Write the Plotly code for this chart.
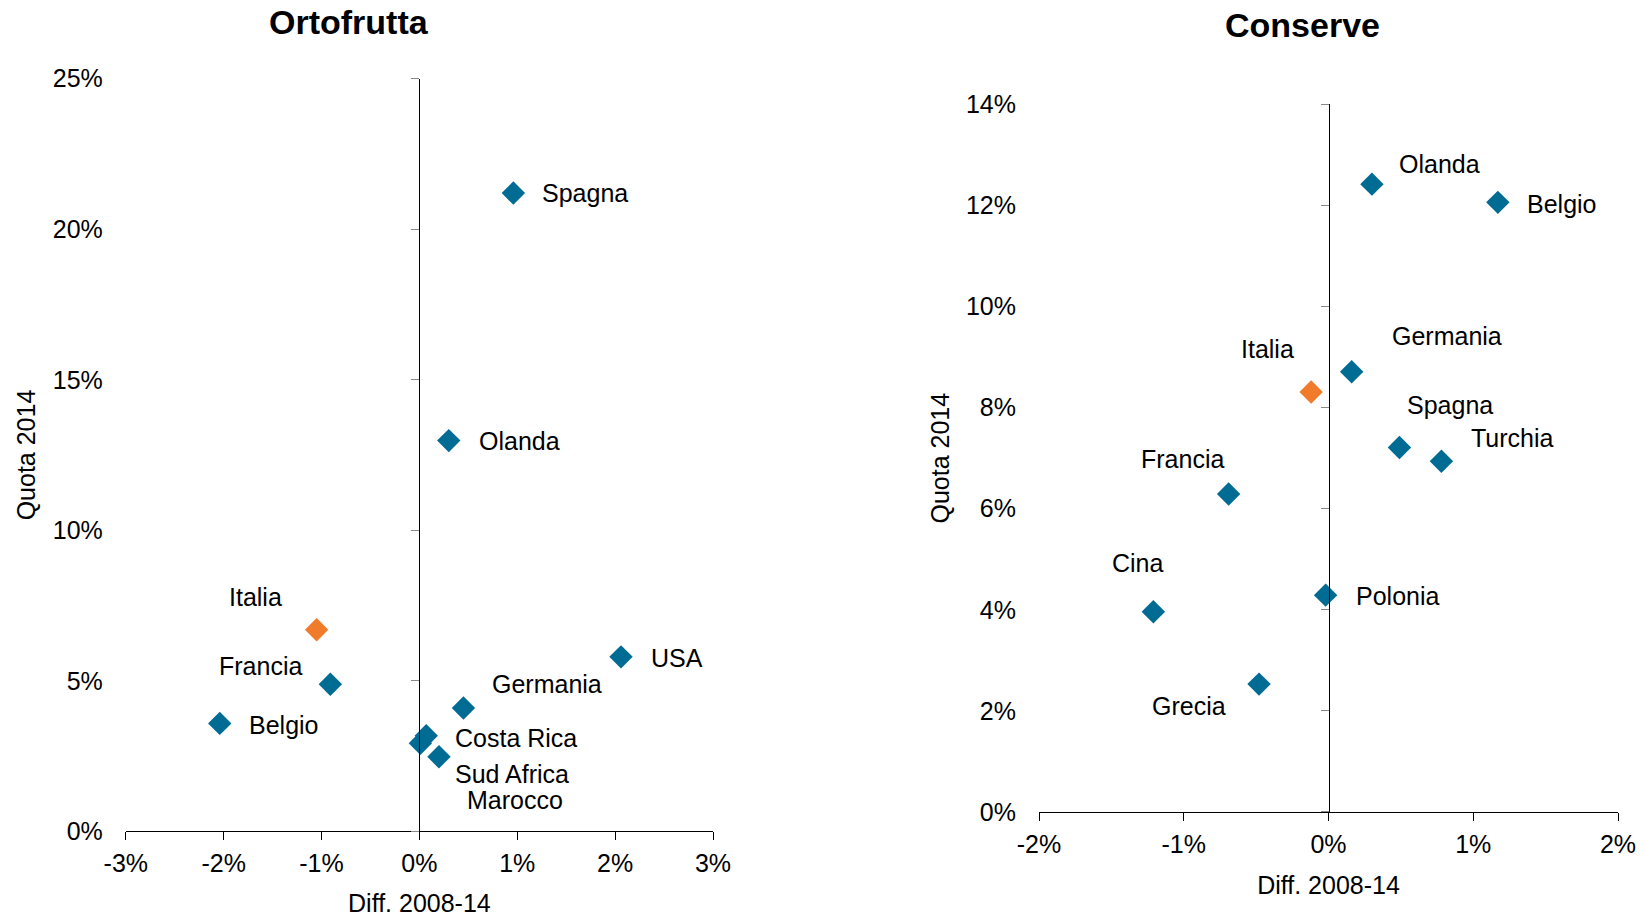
import plotly.graph_objects as go

# Ortofrutta (left)
orto_paesi = ["Spagna", "Olanda", "Italia", "Francia", "Belgio", "USA",
              "Germania", "Costa Rica", "Marocco", "Sud Africa"]
orto_diff = [0.96, 0.30, -1.05, -0.91, -2.04, 2.06, 0.45, 0.07, 0.01, 0.20]
orto_quota = [21.2, 12.98, 6.70, 4.89, 3.59, 5.80, 4.10, 3.18, 2.93, 2.48]

# Conserve (right)
cons_paesi = ["Olanda", "Belgio", "Germania", "Italia", "Spagna", "Turchia",
              "Francia", "Cina", "Polonia", "Grecia"]
cons_diff = [0.30, 1.17, 0.16, -0.12, 0.49, 0.78, -0.69, -1.21, -0.02, -0.48]
cons_quota = [12.42, 12.06, 8.71, 8.31, 7.21, 6.94, 6.29, 3.96, 4.29, 2.53]

orto_xticks = [-3, -2, -1, 0, 1, 2, 3]
orto_yticks = [0, 5, 10, 15, 20, 25]
cons_xticks = [-2, -1, 0, 1, 2]
cons_yticks = [0, 2, 4, 6, 8, 10, 12, 14]

BLU = "#006B93"
ARANCIO = "#F07B2B"
FONT = "Liberation Sans"

# label offsets (px) and anchor for each point
orto_lab = {
    "Spagna": (27, 0, "left"), "Olanda": (28, 0, "left"), "Italia": (-61, 33, "center"),
    "Francia": (-70, 18, "center"), "Belgio": (27, -2, "left"), "USA": (28, -1, "left"),
    "Germania": (27, 24, "left"), "Costa Rica": (27, -2, "left"),
    "Marocco": (95, -57, "center"), "Sud Africa": (14, -17, "left"),
}
cons_lab = {
    "Olanda": (25, 20, "left"), "Belgio": (27, -2, "left"), "Germania": (38, 36, "left"),
    "Italia": (-44, 43, "center"), "Spagna": (6, 43, "left"), "Turchia": (28, 23, "left"),
    "Francia": (-46, 35, "center"), "Cina": (-15, 49, "center"), "Polonia": (28, -1, "left"),
    "Grecia": (-70, -22, "center"),
}

pan = [
    dict(paesi=orto_paesi, x=orto_diff, y=orto_quota, xt=orto_xticks, yt=orto_yticks,
         lab=orto_lab, titolo="Ortofrutta", dx=[0.07200, 0.43093], dy=[0.09406, 0.92233],
         ax="x", ay="y", axo="y3", tx=0.2084, ty=0.9846),
    dict(paesi=cons_paesi, x=cons_diff, y=cons_quota, xt=cons_xticks, yt=cons_yticks,
         lab=cons_lab, titolo="Conserve", dx=[0.63020, 0.98411], dy=[0.11551, 0.89406],
         ax="x2", ay="y2", axo="y4", tx=0.7910, ty=0.9813),
]

fig = go.Figure()
annots = []
for p in pan:
    colori = [ARANCIO if n == "Italia" else BLU for n in p["paesi"]]
    fig.add_trace(go.Scatter(
        x=p["x"], y=p["y"], mode="markers", xaxis=p["ax"], yaxis=p["ay"],
        marker=dict(symbol="diamond", size=18, color=colori, line=dict(width=0)),
        showlegend=False, hoverinfo="skip"))
    # empty helper trace for the axis drawn through x=0
    fig.add_trace(go.Scatter(x=[], y=[], xaxis=p["ax"], yaxis=p["axo"], showlegend=False))
    for n, xv, yv in zip(p["paesi"], p["x"], p["y"]):
        sx, sy, anc = p["lab"][n]
        annots.append(dict(x=xv, y=yv, xref=p["ax"], yref=p["ay"], text=n, showarrow=False,
                           xshift=sx, yshift=sy, xanchor=anc, yanchor="middle",
                           font=dict(family=FONT, size=25, color="black")))
    annots.append(dict(x=p["tx"], y=p["ty"], xref="paper", yref="paper", text="<b>%s</b>" % p["titolo"],
                       showarrow=False, xanchor="center", yanchor="middle", borderpad=0,
                       font=dict(family=FONT, size=34, color="black")))

ax_font = dict(family=FONT, size=25, color="black")


def xax(p):
    return dict(domain=p["dx"], anchor=p["ay"], range=[p["xt"][0], p["xt"][-1]],
                tickvals=p["xt"], ticktext=["%d%%" % v for v in p["xt"]],
                ticks="outside", ticklen=8, tickcolor="black", showline=True,
                linecolor="black", linewidth=1, showgrid=False, zeroline=False,
                tickfont=ax_font, ticklabelstandoff=2, automargin=False,
                ticklabeloverflow="allow",
                title=dict(text="Diff. 2008-14", font=ax_font, standoff=19))


def yax(p):
    return dict(domain=p["dy"], anchor=p["ax"], range=[p["yt"][0], p["yt"][-1]],
                tickvals=p["yt"], ticktext=["%d%%" % v for v in p["yt"]],
                ticks="", showline=False, showgrid=False, zeroline=False,
                tickfont=ax_font, ticklabelstandoff=22, automargin=False,
                title=dict(text="Quota 2014", font=ax_font, standoff=9))


def yzero(p):
    pos = p["dx"][0] + (0 - p["xt"][0]) / (p["xt"][-1] - p["xt"][0]) * (p["dx"][1] - p["dx"][0])
    return dict(overlaying=p["ay"], anchor="free", position=pos, side="left",
                range=[p["yt"][0], p["yt"][-1]], tickvals=p["yt"], showticklabels=False,
                ticks="outside", ticklen=8, tickcolor="#888888", showline=True,
                linecolor="black", linewidth=1, showgrid=False, zeroline=False,
                automargin=False)


fig.update_layout(
    width=1636, height=909,
    margin=dict(l=0, r=0, t=0, b=0),
    plot_bgcolor="white", paper_bgcolor="white",
    font=dict(family=FONT, color="black"),
    xaxis=xax(pan[0]), yaxis=yax(pan[0]), yaxis3=yzero(pan[0]),
    xaxis2=xax(pan[1]), yaxis2=yax(pan[1]), yaxis4=yzero(pan[1]),
    annotations=annots,
)

fig.write_html("out.html")
